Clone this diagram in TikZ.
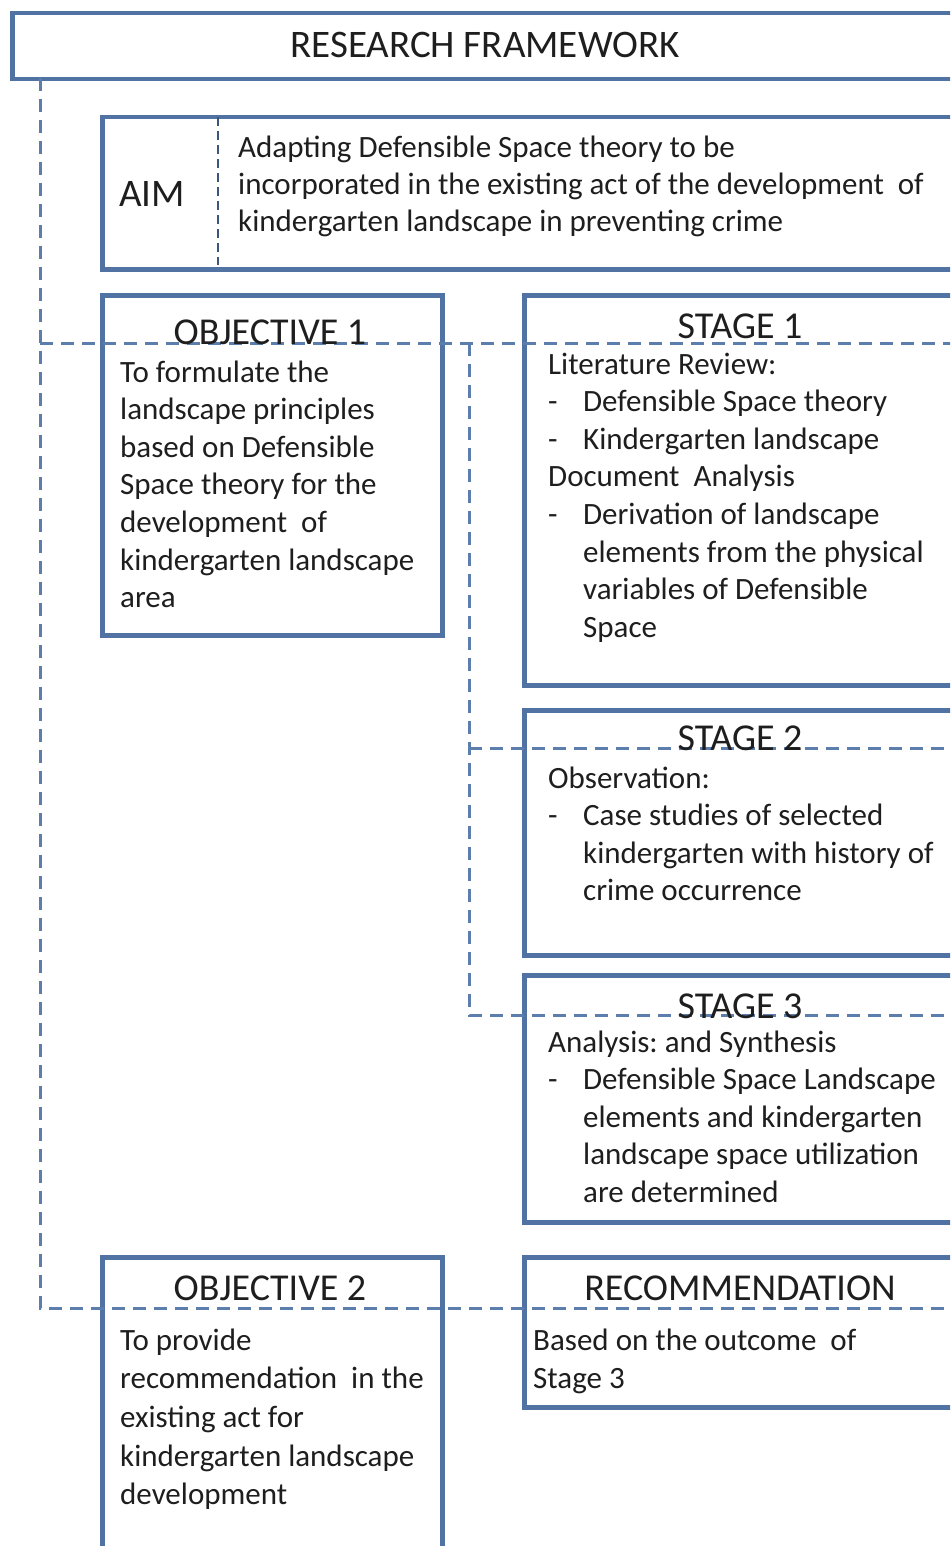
\documentclass[tikz,border=0pt]{standalone}
\usepackage{fontspec}
\setmainfont{Carlito}
\frenchspacing
\definecolor{boxblue}{RGB}{80,115,164}
\definecolor{dashblue}{RGB}{92,126,172}
\definecolor{txt}{RGB}{30,30,30}
\newcommand\mybul{\makebox[35pt][l]{-}}
\newcommand\myind{\hspace*{35pt}}
\tikzset{
 box/.style={draw=boxblue, line width=4.5pt, fill=white, rectangle, inner sep=0pt, anchor=north west},
 dline/.style={draw=dashblue, line width=3pt, dash pattern=on 13pt off 8pt},
 sepline/.style={draw=boxblue!75!black, line width=1.4pt, dash pattern=on 9pt off 5pt},
 head/.style={font=\fontsize{38}{44}\selectfont, anchor=base, inner sep=0pt, text=txt},
 titlef/.style={font=\fontsize{39}{44}\selectfont, anchor=base, inner sep=0pt, text=txt},
 body/.style={font=\fontsize{31}{37.6}\selectfont, anchor=base west, inner sep=0pt, text=txt},
 bodyb/.style={font=\fontsize{31}{38.7}\selectfont, anchor=base west, inner sep=0pt, text=txt},
}
\begin{document}
\begin{tikzpicture}[x=1pt,y=-1pt]
\useasboundingbox (0,0) rectangle (950,1546);
\clip (0,0) rectangle (950,1546);
\fill[white] (0,0) rectangle (950,1546);

% boxes
\node[box, minimum width=950pt, minimum height=66pt] (frame) at (10,11) {};
\node[box, minimum width=860pt, minimum height=152pt] (aim) at (100,115) {};
\node[box, minimum width=340pt, minimum height=340pt] (obj1) at (100,293) {};
\node[box, minimum width=437pt, minimum height=390pt] (st1) at (522,293) {};
\node[box, minimum width=437pt, minimum height=245pt] (st2) at (522,708) {};
\node[box, minimum width=437pt, minimum height=247pt] (st3) at (522,973) {};
\node[box, minimum width=340pt, minimum height=330pt] (obj2) at (100,1255) {};
\node[box, minimum width=437pt, minimum height=150pt] (rec) at (522,1255) {};

% dashed guide lines
\coordinate (a0) at (40,78);
\coordinate (a1) at (40,1308);
\coordinate (a2) at (960,1308);
\coordinate (b0) at (40,343);
\coordinate (b1) at (960,343);
\coordinate (c0) at (469,343);
\coordinate (c1) at (469,1015);
\coordinate (c2) at (960,1015);
\coordinate (d0) at (469,748);
\coordinate (d1) at (960,748);
\coordinate (s0) at (218,117);
\coordinate (s1) at (218,265);
\draw[dline] (a0) -- (a1) -- (a2);
\draw[dline] (b0) -- (b1);
\draw[dline] (c0) -- (c1) -- (c2);
\draw[dline] (d0) -- (d1);
\draw[sepline] (s0) -- (s1);

% texts
\node[titlef] (ttl) at (485,58) {RESEARCH FRAMEWORK};
\node[titlef] (aimlbl) at (152,207) {AIM};
\node[body] (aimtxt) at (238,158) {\parbox[t]{700pt}{\baselineskip=37pt Adapting Defensible Space theory to be\\
incorporated in the existing act of the development\ \ of\\
kindergarten landscape in preventing crime}};

\node[head] (o1h) at (270,344) {OBJECTIVE 1};
\node[body] (o1t) at (120,382) {\parbox[t]{320pt}{To formulate the\\
landscape principles\\
based on Defensible\\
Space theory for the\\
development\ \ of\\
kindergarten landscape\\
area}};

\node[head] (s1h) at (740,338) {STAGE 1};
\node[body] (s1t) at (548,374) {\parbox[t]{420pt}{Literature Review:\\
\mybul Defensible Space theory\\
\mybul Kindergarten landscape\\
Document\ \ Analysis\\
\mybul Derivation of landscape\\
\myind elements from the physical\\
\myind variables of Defensible\\
\myind Space}};

\node[head] (s2h) at (740,750) {STAGE 2};
\node[body] (s2t) at (548,788) {\parbox[t]{420pt}{Observation:\\
\mybul Case studies of selected\\
\myind kindergarten with history of\\
\myind crime occurrence}};

\node[head] (s3h) at (740,1018) {STAGE 3};
\node[body] (s3t) at (548,1052) {\parbox[t]{420pt}{Analysis: and Synthesis\\
\mybul Defensible Space Landscape\\
\myind elements and kindergarten\\
\myind landscape space utilization\\
\myind are determined}};

\node[head] (o2h) at (270,1300) {OBJECTIVE 2};
\node[bodyb] (o2t) at (120,1350) {\parbox[t]{320pt}{To provide\\
recommendation\ \ in the\\
existing act for\\
kindergarten landscape\\
development}};

\node[head] (rech) at (740,1300) {RECOMMENDATION};
\node[bodyb] (rect) at (533,1350) {\parbox[t]{420pt}{Based on the outcome\ \ of\\
Stage 3}};
\end{tikzpicture}
\end{document}
